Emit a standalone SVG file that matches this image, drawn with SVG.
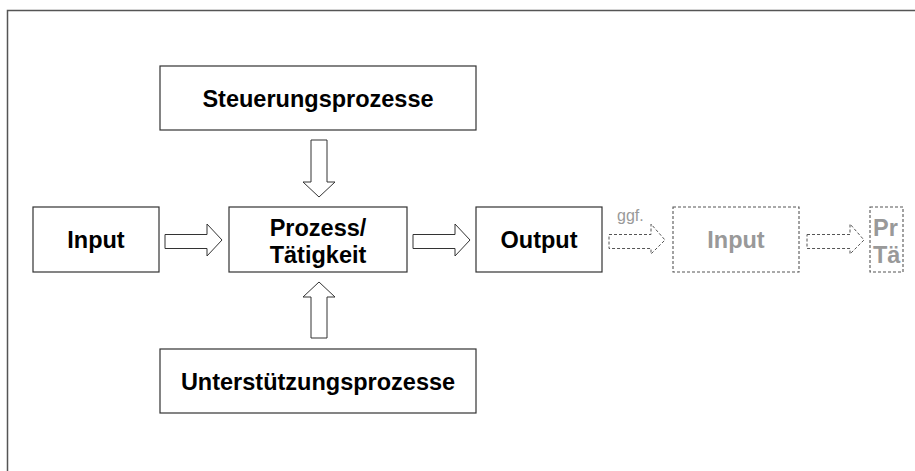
<svg xmlns="http://www.w3.org/2000/svg" width="915" height="471" viewBox="0 0 915 471">
<style>
.box{fill:#fff;stroke:#333;stroke-width:1.2}
.dbox{fill:#fff;stroke:#555;stroke-width:1.1;stroke-dasharray:3 2}
.arr{fill:#fff;stroke:#333;stroke-width:1}
.darr{fill:#fff;stroke:#555;stroke-width:1;stroke-dasharray:3 2}
.t{font-family:"Liberation Sans",Arial,sans-serif;font-weight:bold;font-size:23.5px;fill:#000;text-anchor:middle}
.g{fill:#999}
.s{font-family:"Liberation Sans",Arial,sans-serif;font-size:16px;fill:#999}
</style>
<rect x="7.5" y="10.5" width="1000" height="1000" fill="#fff" stroke="#555" stroke-width="1.5"/>
<g id="connectors">
<path class="arr" d="M165,234.5 H207 V224 L222,240 L207,256 V248.5 H165 Z"/>
<path class="arr" d="M413,234.5 H455 V224 L470,240 L455,256 V248.5 H413 Z"/>
<path class="arr" d="M311,140 V182 H303 L319,197 L335,182 H327 V140 Z"/>
<path class="arr" d="M311,338 V297 H303 L319,282 L335,297 H327 V338 Z"/>
<path class="darr" d="M609,234.5 H651 V224 L665,240 L651,254 V248.5 H609 Z"/>
<path class="darr" d="M807,234.5 H850 V224 L864,240 L850,254 V248.5 H807 Z"/>
<text class="s" x="617" y="221">ggf.</text>
</g>
<g id="steuerung">
<rect class="box" x="160" y="66" width="316" height="64"/>
<text class="t" x="318" y="107">Steuerungsprozesse</text>
</g>
<g id="unterstuetzung">
<rect class="box" x="160" y="349" width="316" height="64"/>
<text class="t" x="318" y="390">Unterstützungsprozesse</text>
</g>
<g id="input">
<rect class="box" x="33" y="207" width="126" height="65"/>
<text class="t" x="96" y="248">Input</text>
</g>
<g id="prozess">
<rect class="box" x="229" y="207" width="178" height="65"/>
<text class="t" x="318" y="236">Prozess/</text>
<text class="t" x="318" y="263">Tätigkeit</text>
</g>
<g id="output">
<rect class="box" x="476" y="207" width="126" height="65"/>
<text class="t" x="539" y="248">Output</text>
</g>
<g id="input2">
<rect class="dbox" x="673" y="207" width="126" height="65"/>
<text class="t g" x="736" y="248">Input</text>
</g>
<g id="prozess2">
<rect class="dbox" x="870" y="207" width="33" height="65"/>
<text class="t g" x="873" y="236" style="text-anchor:start">Pr</text>
<text class="t g" x="873" y="263" style="text-anchor:start">Tä</text>
</g>
</svg>
